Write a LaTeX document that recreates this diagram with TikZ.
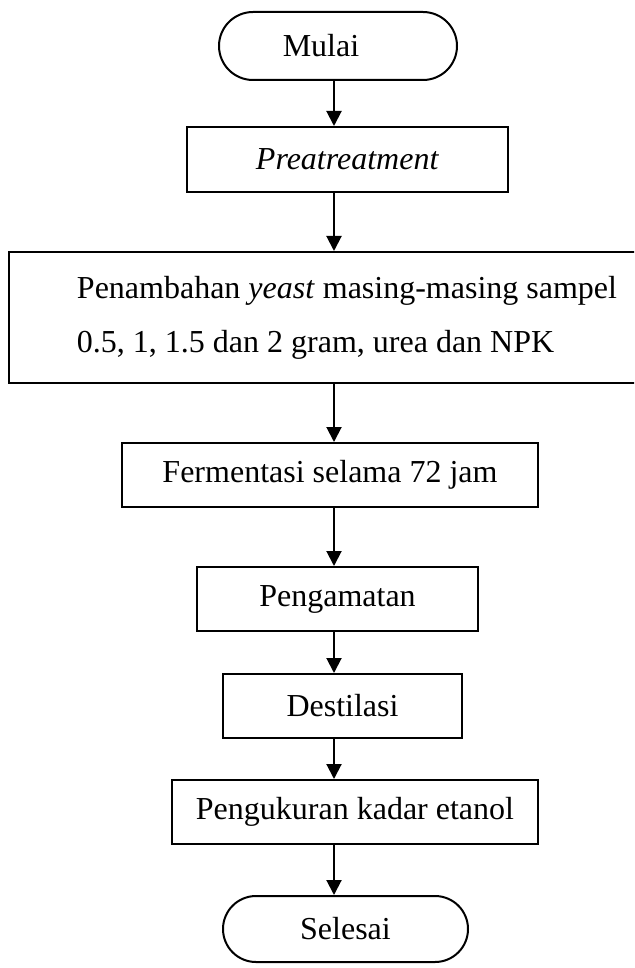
\documentclass[tikz,border=0pt]{standalone}
\usepackage{fontspec}
\setmainfont{Liberation Serif}
\usetikzlibrary{arrows.meta}
\tikzset{
  terminal/.style={draw,line width=1pt,rounded corners=16.5pt,minimum height=33pt,font=\fontsize{16pt}{19pt}\selectfont},
  process/.style={draw,line width=1pt,minimum height=32pt,font=\fontsize{16pt}{19pt}\selectfont},
  flow/.style={line width=1pt,-{Triangle[length=7.5pt,width=7.5pt]}}
}

\begin{document}
\begin{tikzpicture}[x=0.5pt,y=-0.5pt]
\clip (0,0) rectangle (634,968);
\coordinate (spine) at (334,0);
% steps
\node[terminal,minimum width=119pt,minimum height=34pt,rounded corners=17pt] (mulai) at (338,46) {Mulai\hspace*{17pt}};
\node[process,minimum width=160.5pt,minimum height=32.5pt] (pre) at (347.5,159.5) {\textit{Preatreatment}};
\node[process,minimum width=338pt,minimum height=65.5pt,align=left,font=\fontsize{16pt}{27pt}\selectfont] (yeast) at (347,317.5)
  {Penambahan \textit{yeast} masing-masing sampel\\0.5, 1, 1.5 dan 2 gram, urea dan NPK};
\node[process,minimum width=208pt] (ferm) at (330,475) {Fermentasi selama 72 jam};
\node[process,minimum width=140.5pt] (amat) at (337.5,599) {Pengamatan};
\node[process,minimum width=119.5pt] (dest) at (342.5,706) {Destilasi};
\node[process,minimum width=183pt] (ukur) at (355,812) {Pengukuran kadar etanol};
\node[terminal,minimum width=122.5pt] (selesai) at (345.5,929) {Selesai};
% arrows
\draw[flow] (mulai.south -| spine) -- (pre.north -| spine);
\draw[flow] (pre.south -| spine) -- (yeast.north -| spine);
\draw[flow] (yeast.south -| spine) -- (ferm.north -| spine);
\draw[flow] (ferm.south -| spine) -- (amat.north -| spine);
\draw[flow] (amat.south -| spine) -- (dest.north -| spine);
\draw[flow] (dest.south -| spine) -- (ukur.north -| spine);
\draw[flow] (ukur.south -| spine) -- (selesai.north -| spine);
\end{tikzpicture}
\end{document}
